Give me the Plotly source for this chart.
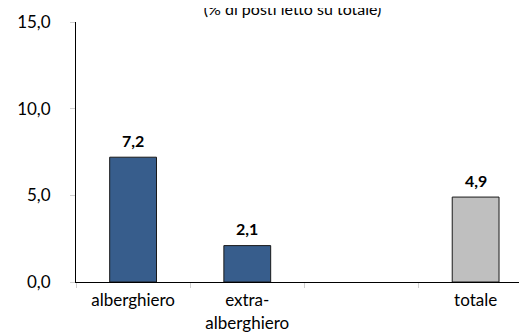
import plotly.graph_objects as go

categories = ["alberghiero", "extra-<br>alberghiero", " ", "totale"]
values = [7.2, 2.1, None, 4.9]
bar_colors = ["#375D8C", "#375D8C", "#BFBFBF", "#BFBFBF"]
title_text = "(% di posti letto su totale)"
y_ticks = [0, 5, 10, 15]

FONT = "Lato, Open Sans, sans-serif"
FS = 17

fig = go.Figure()
fig.add_trace(go.Bar(
    x=categories, y=values,
    marker=dict(color=bar_colors, line=dict(color="#1a1a1a", width=1)),
    width=0.41,
    hoverinfo="skip",
))

for c, v in zip(categories, values):
    if v is None:
        continue
    fig.add_annotation(
        x=c, y=v, text="<b>" + f"{v:.1f}".replace(".", ",") + "</b>",
        showarrow=False, yanchor="middle", yshift=17,
        font=dict(family=FONT, size=16, color="#000000"),
    )

fig.update_layout(
    template="none",
    width=527, height=332,
    margin=dict(l=68, r=0, t=14, b=58, autoexpand=False),
    plot_bgcolor="white", paper_bgcolor="white",
    separators=",.",
    showlegend=False,
    title=dict(text=title_text, x=0.54, xanchor="center", y=0.996, yanchor="middle",
               font=dict(family=FONT, size=16, color="#000000")),
    font=dict(family=FONT, size=FS, color="#000000"),
)
fig.update_xaxes(
    type="category", categoryorder="array", categoryarray=categories,
    range=[-0.5, 3.52], automargin=False,
    showline=True, linecolor="#000000", linewidth=1,
    ticks="outside", tickson="boundaries", ticklen=5, tickcolor="#D0D0D0",
    ticklabelstandoff=3,
    showgrid=False, zeroline=False,
    tickfont=dict(family=FONT, size=FS, color="#000000"),
)
fig.update_yaxes(
    range=[0, 15], tickvals=y_ticks, tickformat=".1f", automargin=False,
    showline=True, linecolor="#000000", linewidth=1,
    ticks="outside", ticklen=5, tickcolor="#D0D0D0",
    ticklabelstandoff=16,
    showgrid=False, zeroline=False,
    tickfont=dict(family=FONT, size=FS, color="#000000"),
)

fig.write_html("out.html")
